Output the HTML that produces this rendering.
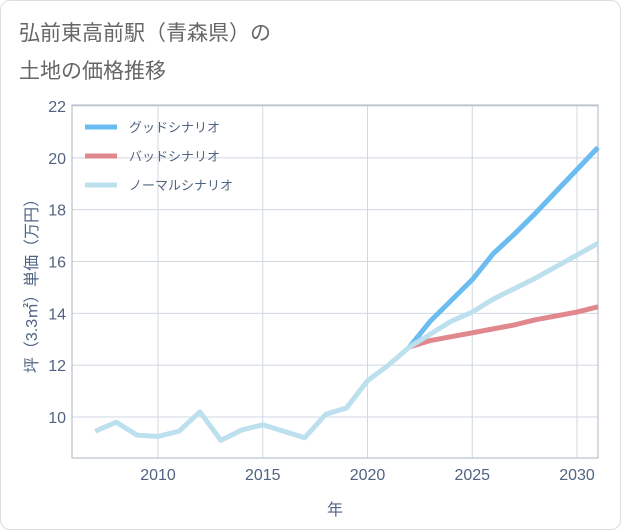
<!DOCTYPE html>
<html><head><meta charset="utf-8"><style>
body{margin:0;background:#fff;font-family:"Liberation Sans","Noto Sans CJK JP",sans-serif}
#card{position:absolute;left:0;top:0;width:619px;height:528px;border:1px solid #ddd;border-radius:10px;background:#fff}
#title{position:absolute;left:18px;top:14px;font-size:21px;line-height:38px;color:#666}
</style></head><body>
<div id="card">
<div id="title">弘前東高前駅（青森県）の<br>土地の価格推移</div>
<svg id="chart" width="621" height="530" style="position:absolute;left:0;top:0"></svg>
</div>
<script>
const years=[2007,2008,2009,2010,2011,2012,2013,2014,2015,2016,2017,2018,2019,2020,2021,2022];
const histValues=[9.45,9.8,9.3,9.25,9.45,10.2,9.1,9.5,9.7,9.45,9.2,10.1,10.35,11.4,12.0,12.7];
const futureYears=[2022,2023,2024,2025,2026,2027,2028,2029,2030,2031];
const goodValues=[12.7,13.7,14.5,15.3,16.3,17.05,17.85,18.7,19.55,20.4];
const badValues=[12.7,12.95,13.1,13.25,13.4,13.55,13.75,13.9,14.05,14.25];
const normalValues=[12.7,13.2,13.7,14.05,14.55,14.95,15.35,15.8,16.25,16.7];
const xTicks=[2010,2015,2020,2025,2030];
const yTicks=[10,12,14,16,18,20,22];
const legendLabels=["グッドシナリオ","バッドシナリオ","ノーマルシナリオ"];

const svg=document.getElementById('chart');const NS='http://www.w3.org/2000/svg';
const L=71,R=597,T=104,B=457;
const x=v=>157+(v-2010)*(576-157)/20;
const y=v=>416-(v-10)*(416-105)/12;
function mk(t,a,p){const e=document.createElementNS(NS,t);for(const k in a)e.setAttribute(k,a[k]);(p||svg).appendChild(e);return e;}
const grid=mk('g',{});


yTicks.forEach(v=>{mk('line',{x1:L,x2:R,y1:y(v),y2:y(v),stroke:'#d0d8e0'},grid);
const t=mk('text',{x:L-6,y:y(v)+6,'text-anchor':'end','font-size':16,fill:'#506482'});t.textContent=v;

});
xTicks.forEach(v=>{mk('line',{x1:x(v),x2:x(v),y1:T,y2:B,stroke:'#d0d8e0'},grid);
const t=mk('text',{x:x(v),y:B+22,'text-anchor':'middle','font-size':16,fill:'#506482'});t.textContent=v;

});
mk('rect',{x:L,y:T,width:R-L,height:B-T,fill:'none',stroke:'#aab4c0'});
const xt=mk('text',{x:334,y:514,'text-anchor':'middle','font-size':16,fill:'#506482'});xt.textContent='年';


const yt=mk('text',{x:0,y:0,transform:'translate(36,281) rotate(-90)','text-anchor':'middle','font-size':16,fill:'#506482'});yt.textContent='坪（3.3㎡）単価（万円）';


function line(xs,vs,c,name){const p=mk('polyline',{points:xs.map((v,i)=>x(v)+','+y(vs[i])).join(' '),fill:'none',stroke:c,'stroke-width':5,'stroke-linejoin':'round'});

}
line(futureYears,goodValues,'#6bbcf0','good-scenario-line');
line(futureYears,badValues,'#e0888e','bad-scenario-line');
line(futureYears,normalValues,'#bde0ef','normal-scenario-line');
line(years,histValues,'#bde0ef','historical-line');
const colors=['#6bbcf0','#e0888e','#bde0ef'];
legendLabels.forEach((s,i)=>{const g=mk('g',{});


const yy=126+i*29;mk('line',{x1:84,x2:116,y1:yy,y2:yy,stroke:colors[i],'stroke-width':5},g);
const t=mk('text',{x:128,y:yy+5,'font-size':13,fill:'#506482'},g);t.textContent=s;});
</script>
</body></html>
